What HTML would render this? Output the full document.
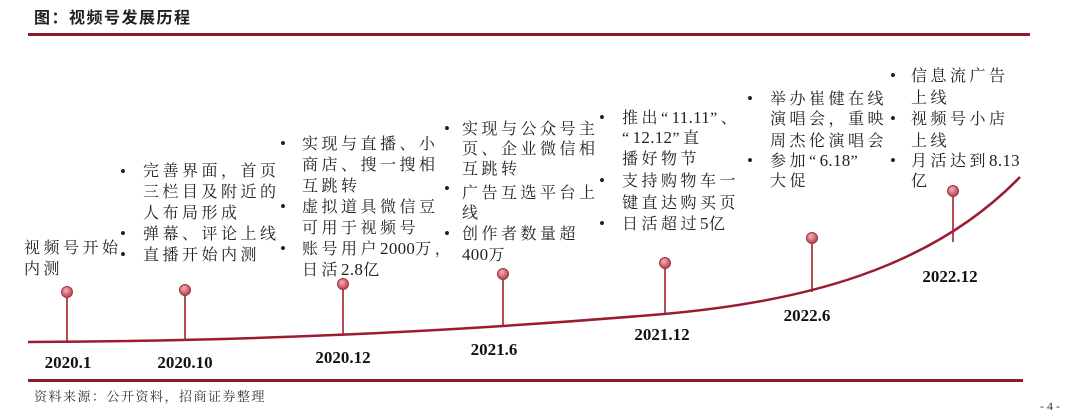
<!DOCTYPE html>
<html><head><meta charset="utf-8"><style>
html,body{margin:0;padding:0;background:#fff;}
svg{display:block;}
.t{font-family:"Liberation Serif","Noto Serif CJK SC",serif;font-size:16px;fill:#222;letter-spacing:3.5px;}
.n{letter-spacing:0.3px;font-size:17px;}
.d{font-family:"Liberation Serif",serif;font-size:17px;font-weight:bold;fill:#111;text-anchor:middle;}
.b{font-family:"Liberation Serif",serif;font-size:17px;fill:#222;}
</style></head><body>
<svg width="1080" height="413" viewBox="0 0 1080 413" xmlns="http://www.w3.org/2000/svg">
<defs><radialGradient id="g" cx="40%" cy="35%" r="65%"><stop offset="0" stop-color="#f0b0b5"/><stop offset="1" stop-color="#b8404c"/></radialGradient></defs>
<text x="34" y="23" style="font-family:'Liberation Sans','Noto Sans CJK SC',sans-serif;font-size:16px;font-weight:bold;fill:#222;letter-spacing:1.5px">图：视频号发展历程</text>
<rect x="28" y="33" width="1002" height="3" fill="#8b1a2b"/>
<path d="M28,342 C250,341 450,332 664,314 C800,302 930,270 1020,177" fill="none" stroke="#9b1b30" stroke-width="2.5"/>
<g stroke="#a02030" stroke-width="1.6">
<line x1="67" y1="292" x2="67" y2="342"/><line x1="185" y1="290" x2="185" y2="341"/>
<line x1="343" y1="284" x2="343" y2="336"/><line x1="503" y1="274" x2="503" y2="326"/>
<line x1="665" y1="263" x2="665" y2="314"/><line x1="812" y1="238" x2="812" y2="292"/>
<line x1="953" y1="191" x2="953" y2="242"/></g>
<g fill="url(#g)" stroke="#a33442" stroke-width="1">
<circle cx="67" cy="292" r="5.5"/><circle cx="185" cy="290" r="5.5"/><circle cx="343" cy="284" r="5.5"/>
<circle cx="503" cy="274" r="5.5"/><circle cx="665" cy="263" r="5.5"/><circle cx="812" cy="238" r="5.5"/><circle cx="953" cy="191" r="5.5"/></g>
<text class="d" x="68" y="368">2020.1</text><text class="d" x="185" y="368">2020.10</text>
<text class="d" x="343" y="363">2020.12</text><text class="d" x="494" y="355">2021.6</text>
<text class="d" x="662" y="340">2021.12</text><text class="d" x="807" y="321">2022.6</text>
<text class="d" x="950" y="282">2022.12</text>
<rect x="28" y="379" width="995" height="3" fill="#8b1a2b"/>
<text x="34" y="401" style="font-family:'Liberation Serif','Noto Serif CJK SC',serif;font-size:13px;fill:#333;letter-spacing:1.5px">资料来源：公开资料，招商证券整理</text>
<text x="1040" y="410" style="font-family:'Liberation Serif',serif;font-size:12px;fill:#333">- 4 -</text>

<text class="t" x="24" y="253">视频号开始</text><text class="t" x="24" y="274">内测</text>

<g class="b"><text x="120" y="177">•</text><text x="120" y="239">•</text><text x="120" y="260">•</text></g>
<text class="t" x="143" y="176">完善界面，首页</text><text class="t" x="143" y="197">三栏目及附近的</text>
<text class="t" x="143" y="218">人布局形成</text><text class="t" x="143" y="239">弹幕、评论上线</text>
<text class="t" x="143" y="260">直播开始内测</text>

<g class="b"><text x="280" y="149">•</text><text x="280" y="212">•</text><text x="280" y="254">•</text></g>
<text class="t" x="302" y="149">实现与直播、小</text><text class="t" x="302" y="170">商店、搜一搜相</text>
<text class="t" x="302" y="191">互跳转</text><text class="t" x="302" y="212">虚拟道具微信豆</text>
<text class="t" x="302" y="233">可用于视频号</text><text class="t" x="302" y="254">账号用户<tspan class="n">2000</tspan>万，</text>
<text class="t" x="302" y="275">日活<tspan class="n">2.8</tspan>亿</text>

<g class="b"><text x="444" y="134">•</text><text x="444" y="194">•</text><text x="444" y="239">•</text></g>
<text class="t" x="462" y="134">实现与公众号主</text><text class="t" x="462" y="154">页、企业微信相</text>
<text class="t" x="462" y="174">互跳转</text><text class="t" x="462" y="198">广告互选平台上</text>
<text class="t" x="462" y="218">线</text><text class="t" x="462" y="239">创作者数量超</text>
<text class="t" x="462" y="260"><tspan class="n">400</tspan>万</text>

<g class="b"><text x="599" y="123">•</text><text x="599" y="186">•</text><text x="599" y="229">•</text></g>
<text class="t" x="622" y="123">推出“<tspan class="n">11.11</tspan>”、</text><text class="t" x="622" y="143">“<tspan class="n">12.12</tspan>”直</text>
<text class="t" x="622" y="164">播好物节</text><text class="t" x="622" y="186">支持购物车一</text>
<text class="t" x="622" y="208">键直达购买页</text><text class="t" x="622" y="229">日活超过<tspan class="n">5</tspan>亿</text>

<g class="b"><text x="747" y="104">•</text><text x="747" y="166">•</text></g>
<text class="t" x="770" y="104">举办崔健在线</text><text class="t" x="770" y="124">演唱会，重映</text>
<text class="t" x="770" y="146">周杰伦演唱会</text><text class="t" x="770" y="166">参加“<tspan class="n">6.18</tspan>”</text>
<text class="t" x="770" y="186">大促</text>

<g class="b"><text x="890" y="81">•</text><text x="890" y="124">•</text><text x="890" y="166">•</text></g>
<text class="t" x="911" y="81">信息流广告</text><text class="t" x="911" y="103">上线</text>
<text class="t" x="911" y="124">视频号小店</text><text class="t" x="911" y="146">上线</text>
<text class="t" x="911" y="166">月活达到<tspan class="n">8.13</tspan></text><text class="t" x="911" y="186">亿</text>
</svg>
</body></html>
